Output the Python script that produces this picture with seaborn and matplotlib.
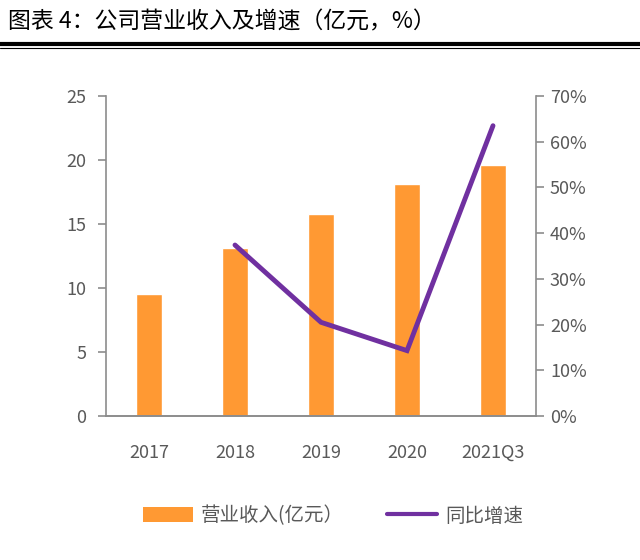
import matplotlib
matplotlib.use("Agg")
import matplotlib.pyplot as plt
import seaborn as sns
import pandas as pd
from matplotlib.ticker import PercentFormatter
from matplotlib.lines import Line2D
from matplotlib.patches import Patch

sns.set_theme(style="white")
plt.rcParams['font.family'] = ['Noto Sans CJK SC', 'DejaVu Sans']

categories = ["2017", "2018", "2019", "2020", "2021Q3"]
revenue = [9.5, 13.1, 15.8, 18.1, 19.6]
growth_years = ["2018", "2019", "2020", "2021Q3"]
growth = [37.4, 20.5, 14.3, 63.5]

title = "图表 4：公司营业收入及增速（亿元，%）"
bar_label = "营业收入(亿元）"
line_label = "同比增速"

orange = "#FF9933"
purple = "#7030A0"
gray = "#595959"
spine = "#8C8C8C"

fig = plt.figure(figsize=(6.4, 5.6), dpi=100)
ax = fig.add_axes([106/640, 1-416/560, 430/640, 320/560])

df = pd.DataFrame({"cat": categories, "rev": revenue})
sns.barplot(data=df, x="cat", y="rev", order=categories, color=orange,
            width=0.31, saturation=1, ax=ax)
ax.set_xlim(-0.5, len(categories) - 0.5)
ax.set_ylim(0, 25)
ax.set_yticks([0, 5, 10, 15, 20, 25])
ax.set_xlabel("")
ax.set_ylabel("")

ax2 = ax.twinx()
gdf = pd.DataFrame({"x": [categories.index(c) for c in growth_years], "g": growth})
sns.lineplot(data=gdf, x="x", y="g", color=purple, linewidth=3.5, ax=ax2,
             solid_capstyle="round", solid_joinstyle="miter")
ax2.set_ylim(0, 70)
ax2.set_yticks(range(0, 71, 10))
ax2.yaxis.set_major_formatter(PercentFormatter(decimals=0))
ax2.set_ylabel("")
ax2.set_xlabel("")
ax2.set_xlim(-0.5, len(categories) - 0.5)

for a in (ax, ax2):
    a.spines["top"].set_visible(False)
    for s in ["left", "right", "bottom"]:
        a.spines[s].set_color(spine)
        a.spines[s].set_linewidth(1.2)
ax.spines["right"].set_visible(False)
ax2.spines["left"].set_visible(False)

ax.tick_params(axis="y", left=True, length=6, width=1.2, color=spine,
               labelsize=13, labelcolor=gray, pad=8)
ax.tick_params(axis="x", bottom=False, labelsize=13, labelcolor=gray, pad=14)
ax2.tick_params(axis="y", right=True, length=6, width=1.2, color=spine,
                labelsize=13, labelcolor=gray, pad=4)

# title and rules
fig.text(8/640, 1-22/560, title, fontsize=16.5, color="black",
         va="center", ha="left")
fig.add_artist(Line2D([0, 1], [1-44/560, 1-44/560], color="black", linewidth=3))
fig.add_artist(Line2D([0, 1], [1-48/560, 1-48/560], color="black", linewidth=0.8))

handles = [Patch(facecolor=orange, edgecolor="none", label=bar_label),
           Line2D([], [], color=purple, linewidth=3, label=line_label)]
leg = fig.legend(handles=handles, loc="center", bbox_to_anchor=(0.52, 1-516/560),
                 ncol=2, frameon=False, fontsize=14, handlelength=2.6,
                 handleheight=0.8, columnspacing=2.2, handletextpad=0.4)
for t in leg.get_texts():
    t.set_color(gray)

fig.savefig("out.png", dpi=100)
